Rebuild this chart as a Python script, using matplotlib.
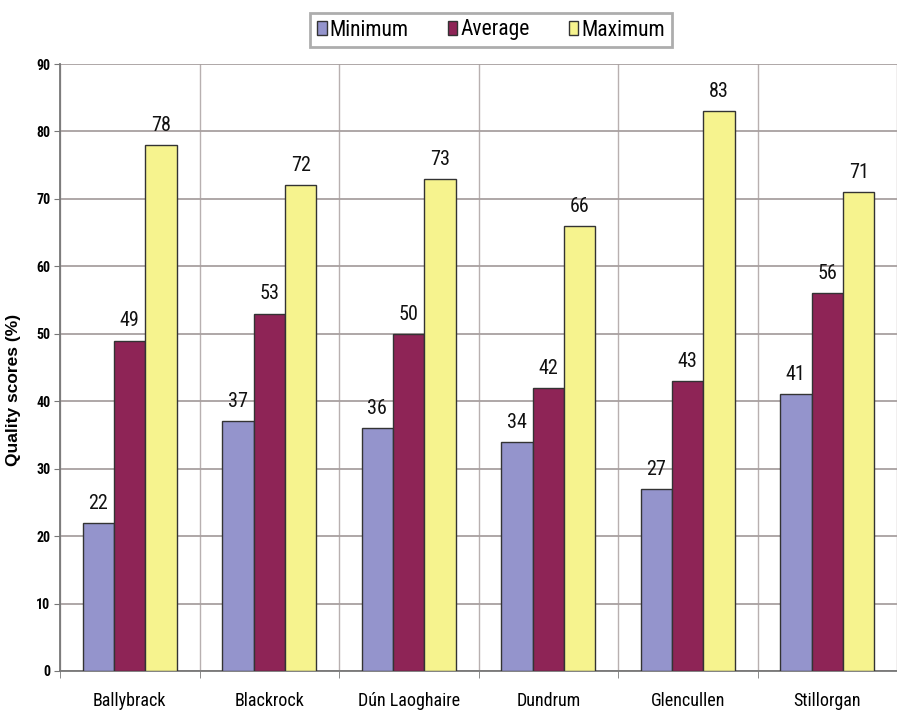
import matplotlib
matplotlib.use("Agg")
import matplotlib.pyplot as plt
import numpy as np
from matplotlib import font_manager
from matplotlib.font_manager import FontProperties

# find a condensed/narrow font
cands = []
for f in font_manager.fontManager.ttflist:
    fn = f.fname.lower()
    if ('narrow' in fn or 'condensed' in fn) and 'oblique' not in fn and 'italic' not in fn:
        cands.append(f)

def pick(bold):
    order = ['liberationsansnarrow', 'robotocondensed', 'opensanscondensed', 'dejavusanscondensed']
    for key in order:
        for f in cands:
            fn = f.fname.lower().replace('-', '').replace('_', '')
            if key in fn:
                isb = 'bold' in fn
                if isb == bold and ('light' not in fn) and ('medium' not in fn) and ('thin' not in fn) and ('black' not in fn):
                    return f.fname
    return None

reg_file = pick(False)
bold_file = pick(True)
fp_reg = (lambda s: FontProperties(fname=reg_file, size=s)) if reg_file else (lambda s: FontProperties(family='Liberation Sans', size=s))
fp_bold = (lambda s: FontProperties(fname=bold_file, size=s)) if bold_file else (lambda s: FontProperties(family='Liberation Sans', weight='bold', size=s))

categories = ["Ballybrack", "Blackrock", "Dún Laoghaire", "Dundrum", "Glencullen", "Stillorgan"]
minimum = [22, 37, 36, 34, 27, 41]
average = [49, 53, 50, 42, 43, 56]
maximum = [78, 72, 73, 66, 83, 71]
series_names = ["Minimum", "Average", "Maximum"]
colors = ["#9494CC", "#8E2456", "#F6F38E"]
yticks = list(range(0, 91, 10))

fig = plt.figure(figsize=(8.97, 7.14), dpi=100)
ax = fig.add_axes([60/897, 1-671/714, 1-60/897, (671-64)/714])

x = np.arange(len(categories))
w = 0.225
for i, (vals, c, nm) in enumerate(zip([minimum, average, maximum], colors, series_names)):
    pos = x + (i-1)*w
    ax.bar(pos, vals, width=w, color=c, edgecolor="#333333", linewidth=1.0, label=nm, zorder=3)
    for p, v in zip(pos, vals):
        ax.text(p, v + 1.5, str(v), ha='center', va='bottom', fontproperties=fp_reg(14.5), color='#111111', zorder=4)

ax.set_xlim(-0.5, len(categories)-0.5)
ax.set_ylim(0, 90)
ax.set_yticks(yticks)
ax.set_yticklabels([str(t) for t in yticks])
for t in ax.get_yticklabels():
    t.set_fontproperties(fp_bold(10))
ax.set_xticks(x)
ax.set_xticklabels(categories)
for t in ax.get_xticklabels():
    t.set_fontproperties(fp_reg(13))
ax.tick_params(axis='x', length=0, pad=15)
ax.tick_params(axis='y', length=4, color='#777777', pad=3)
ax.set_xticks(np.arange(len(categories)+1)-0.5, minor=True)
ax.tick_params(axis='x', which='minor', length=5, color='#777777')

ax.yaxis.grid(True, color='#A8A0A0', linewidth=1.3, zorder=0)
ax.xaxis.grid(True, which='minor', color='#B8B0B0', linewidth=1.0, zorder=0)
ax.xaxis.grid(False, which='major')
for s in ['top', 'right']:
    ax.spines[s].set_visible(False)
for s in ['left', 'bottom']:
    ax.spines[s].set_color('#777777')
    ax.spines[s].set_linewidth(1.3)

ax.set_ylabel("Quality scores (%)", fontproperties=FontProperties(family='Liberation Sans', weight='bold', size=12.5), labelpad=6)
ax.yaxis.set_label_coords(-0.047, 0.463)

leg = fig.legend(loc='center', bbox_to_anchor=(491/897, 1-30/714), ncol=3,
                 prop=fp_reg(15.5),
                 frameon=True, fancybox=False, edgecolor='#999999', handlelength=0.45,
                 handleheight=0.65, handletextpad=0.15, columnspacing=1.8, borderpad=0.3,
                 borderaxespad=0)
leg.get_frame().set_linewidth(2.0)

fig.savefig("out.png", dpi=100, facecolor='white')
